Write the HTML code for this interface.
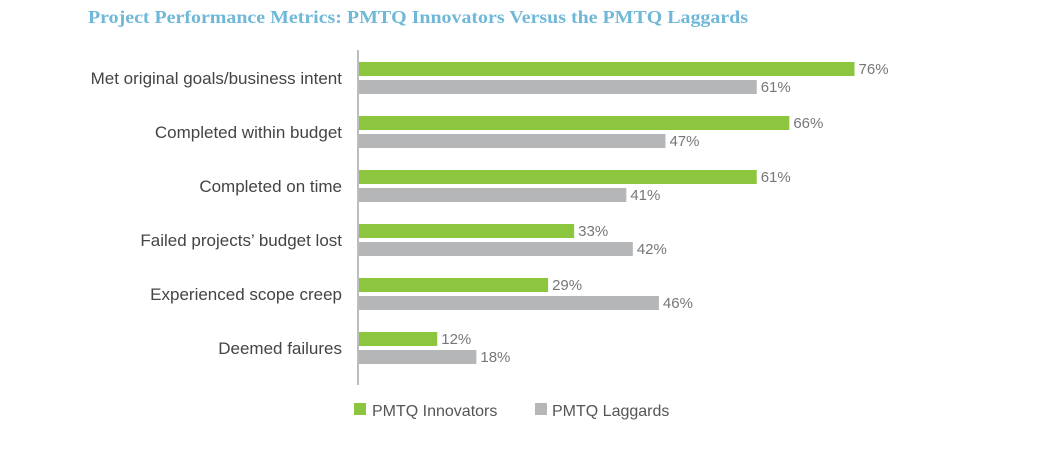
<!DOCTYPE html>
<html><head><meta charset="utf-8"><style>
body{margin:0;background:#fff;width:1054px;height:453px;overflow:hidden;font-family:"Liberation Sans",sans-serif}
</style></head><body>
<svg width="1054" height="453">
<text x="88" y="23" font-family="Liberation Serif,serif" font-size="18" font-weight="bold" fill="#6fb8d8" textLength="660" lengthAdjust="spacingAndGlyphs">Project Performance Metrics: PMTQ Innovators Versus the PMTQ Laggards</text>
<line x1="358" y1="50" x2="358" y2="385" stroke="#bdbdbd" stroke-width="2"/>
<g id="bars"></g>
<rect x="354" y="403" width="12" height="12" fill="#8cc63f"/>
<text x="372" y="416" font-size="16" fill="#555">PMTQ Innovators</text>
<rect x="535" y="403" width="12" height="12" fill="#b5b6b8"/>
<text x="552" y="416" font-size="16" fill="#555">PMTQ Laggards</text>
</svg>
<script>
const categories=["Met original goals/business intent","Completed within budget","Completed on time","Failed projects’ budget lost","Experienced scope creep","Deemed failures"];
const innovators=[76,66,61,33,29,12];
const laggards=[61,47,41,42,46,18];
const NS="http://www.w3.org/2000/svg";
const g=document.getElementById('bars');
const x=v=>v*6.52;
const y=i=>62+i*54;
function mk(t,a){const e=document.createElementNS(NS,t);for(const k in a)e.setAttribute(k,a[k]);g.appendChild(e);return e;}
categories.forEach((c,i)=>{
  const l=mk('text',{x:342,y:y(i)+22,'text-anchor':'end','font-size':17,fill:'#444'});l.textContent=c;
  
  
  [[innovators,'#8cc63f',0,'bar-innovators'],[laggards,'#b5b6b8',18,'bar-laggards']].forEach(([arr,col,off,nm])=>{
    const r=mk('rect',{x:359,y:y(i)+off,width:x(arr[i]),height:14,fill:col});
    
    
    const t=mk('text',{x:359+x(arr[i])+4,y:y(i)+off+12,'font-size':15,fill:'#777'});t.textContent=arr[i]+'%';
    
    
  });
});
</script>
</body></html>
